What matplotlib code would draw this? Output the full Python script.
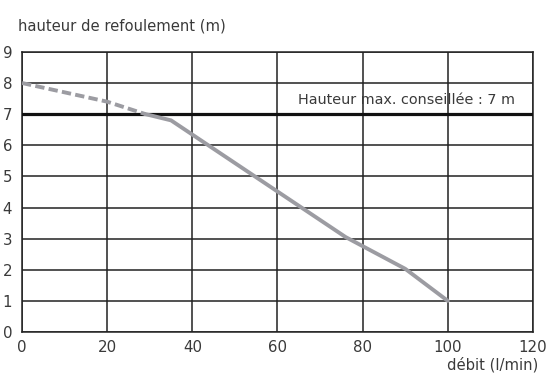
import matplotlib.pyplot as plt

plt.rcParams["font.family"] = ["DejaVu Sans"]

# dashed part of the curve (outside recommended range)
debit_dash = [0, 20, 29]
haut_dash = [8.0, 7.4, 7.0]
# solid part of the curve
debit = [29, 35, 76, 90, 100]
hauteur = [7.0, 6.8, 3.05, 2.03, 1.0]
hauteur_max = 7
xticks = [0, 20, 40, 60, 80, 100, 120]
yticks = list(range(10))

fig = plt.figure(figsize=(5.56, 3.76), dpi=100)
ax = fig.add_axes([0.0396, 0.117, 0.919, 0.745])

ax.set_xlim(0, 120)
ax.set_ylim(0, 9)
ax.set_xticks(xticks)
ax.set_yticks(yticks)
ax.grid(True, color="#222222", linewidth=1.1)
ax.tick_params(length=0, labelsize=10.8, colors="#3a3a3a")
ax.tick_params(axis="y", pad=7)
ax.tick_params(axis="x", pad=6)
for s in ax.spines.values():
    s.set_color("#222222")
    s.set_linewidth(1.1)

ax.axhline(hauteur_max, color="#111111", linewidth=2.3, zorder=3)
ax.plot(debit_dash, haut_dash, color="#9c9ca2", linewidth=2.8, linestyle=(0, (2.4, 1.1)), zorder=4)
ax.plot(debit, hauteur, color="#9c9ca2", linewidth=2.8, solid_capstyle="round",
        solid_joinstyle="round", zorder=4)

ax.text(115.8, 7.46, "Hauteur max. conseillée : 7 m", ha="right", va="center",
        fontsize=10.35, color="#3a3a3a")

fig.text(0.032, 0.931, "hauteur de refoulement (m)", ha="left", va="center", fontsize=10.6, color="#3a3a3a")
fig.text(0.968, 0.029, "débit (l/min)", ha="right", va="center", fontsize=10.6, color="#3a3a3a")

plt.savefig("out.png", dpi=100)
